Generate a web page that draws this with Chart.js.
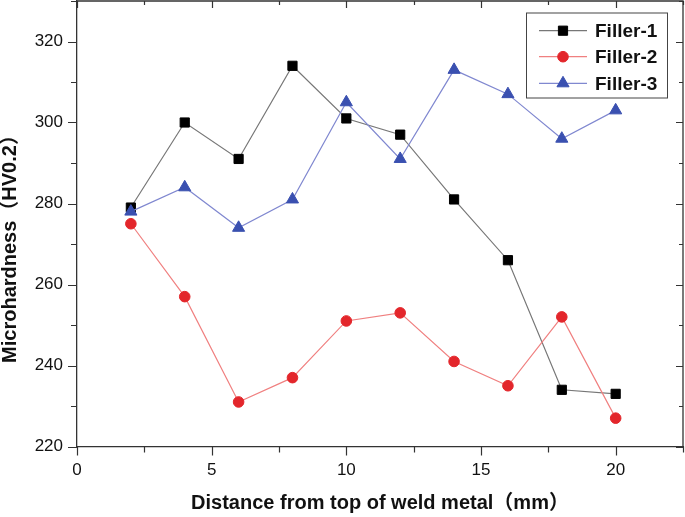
<!DOCTYPE html>
<html><head><meta charset="utf-8">
<script src="https://cdn.jsdelivr.net/npm/chart.js@4.4.0/dist/chart.umd.min.js"></script>
<style>html,body{margin:0;padding:0;background:#fff;}#wrap{width:685px;height:517px;position:relative;}</style>
</head><body><div id="wrap"><canvas id="c" width="685" height="517"></canvas></div>
<script>
// ---- data ----
const distances = [2, 4, 6, 8, 10, 12, 14, 16, 18, 20];
const filler1 = [279, 300, 291, 314, 301, 297, 281, 266, 234, 233];
const filler2 = [275, 257, 231, 237, 251, 253, 241, 235, 252, 227];
const filler3 = [278, 284, 274, 281, 305, 291, 313, 307, 296, 303];
const seriesNames = ['Filler-1', 'Filler-2', 'Filler-3'];
const xMajorTicks = [0, 5, 10, 15, 20];
const yMajorTicks = [220, 240, 260, 280, 300, 320];
const xTitle = 'Distance from top of weld metal（mm）';
const yTitle = 'Microhardness（HV0.2）';

const FONT = "'Liberation Sans', Arial, 'Noto Sans CJK SC', sans-serif";
const AXIS = '#333';

function pts(vals) { return distances.map((d, i) => ({x: d, y: vals[i]})); }

const frameTicks = {
  id: 'frameTicks',
  afterDraw(chart) {
    const {ctx, chartArea: a, scales: {x, y}} = chart;
    ctx.save();
    ctx.strokeStyle = AXIS; ctx.lineWidth = 1.3;
    ctx.beginPath();
    ctx.moveTo(a.left, a.top); ctx.lineTo(a.right, a.top); ctx.lineTo(a.right, a.bottom);
    ctx.stroke();
    ctx.lineWidth = 1.2;
    ctx.beginPath();
    for (let v = 220; v <= 330; v += 10) {
      const py = Math.round(y.getPixelForValue(v)) + 0.5;
      const major = yMajorTicks.includes(v);
      const L = major ? 9 : 6;
      ctx.moveTo(a.left, py); ctx.lineTo(a.left - L, py);
      ctx.moveTo(a.right, py); ctx.lineTo(a.right - (major ? 7 : 4), py);
    }
    for (let v = 0; v <= 22.5; v += 2.5) {
      const px = Math.round(x.getPixelForValue(v)) + 0.5;
      const major = xMajorTicks.includes(v);
      const L = major ? 9 : 6;
      ctx.moveTo(px, a.bottom); ctx.lineTo(px, a.bottom + L);
      ctx.moveTo(px, a.top); ctx.lineTo(px, a.top + (major ? 7 : 4));
    }
    ctx.stroke();
    ctx.fillStyle = '#111';
    ctx.font = 'bold 20px ' + FONT;
    ctx.textAlign = 'center'; ctx.textBaseline = 'middle';
    ctx.translate(10.5, 244);
    ctx.rotate(-Math.PI / 2);
    ctx.fillText(yTitle, 0, 0);
    ctx.restore();

    ctx.save();
    const bx = 526, by = 12.5, bw = 141, bh = 85;
    ctx.strokeStyle = '#444'; ctx.lineWidth = 1;
    ctx.strokeRect(bx + 0.5, by + 0.5, bw, bh);
    const rows = [30.7, 56.7, 83.3];
    chart.data.datasets.forEach((ds, i) => {
      const cy = rows[i];
      ctx.strokeStyle = ds.borderColor; ctx.lineWidth = ds.borderWidth;
      ctx.beginPath(); ctx.moveTo(539, cy); ctx.lineTo(587, cy); ctx.stroke();
      ctx.fillStyle = ds.pointBackgroundColor; ctx.strokeStyle = ds.pointBorderColor;
      ctx.lineWidth = ds.pointBorderWidth;
      Chart.helpers.drawPoint(ctx, {pointStyle: ds.pointStyle, radius: ds.pointRadius, rotation: 0, borderWidth: ds.pointBorderWidth}, 563, cy);
      ctx.fillStyle = '#111';
      ctx.font = 'bold 19px ' + FONT;
      ctx.textAlign = 'left'; ctx.textBaseline = 'middle';
      ctx.fillText(ds.label, 595, cy + 1);
    });
    ctx.restore();
  }
};

new Chart(document.getElementById('c'), {
  type: 'line',
  data: {
    datasets: [
      {label: seriesNames[0], data: pts(filler1), borderColor: '#777', borderWidth: 1.2,
       pointStyle: 'rect', pointRadius: 6.5, pointBackgroundColor: '#000', pointBorderColor: '#000', pointBorderWidth: 1, order: 3},
      {label: seriesNames[1], data: pts(filler2), borderColor: '#f08080', borderWidth: 1.2,
       pointStyle: 'circle', pointRadius: 5.3, pointBackgroundColor: '#e3262b', pointBorderColor: '#e3262b', pointBorderWidth: 1, order: 2},
      {label: seriesNames[2], data: pts(filler3), borderColor: '#8088d0', borderWidth: 1.2,
       pointStyle: 'triangle', pointRadius: 7, pointBackgroundColor: '#3a50b0', pointBorderColor: '#3a50b0', pointBorderWidth: 1, order: 1}
    ]
  },
  options: {
    responsive: false, animation: false, devicePixelRatio: 1,
    layout: {autoPadding: false, padding: {top: 1, right: 2, left: 0, bottom: 0}},
    plugins: {legend: {display: false}, tooltip: {enabled: false}},
    elements: {line: {tension: 0}},
    scales: {
      x: {
        type: 'linear', min: 0, max: 22.5,
        grid: {display: false},
        border: {display: true, color: AXIS, width: 1.3},
        ticks: {stepSize: 2.5, autoSkip: false, maxRotation: 0, padding: 6, color: '#111',
                font: {family: FONT, size: 17},
                callback: v => xMajorTicks.includes(v) ? String(v) : null},
        title: {display: true, text: xTitle, color: '#111',
                font: {family: FONT, size: 20, weight: 'bold'}, padding: {top: 0, bottom: 1.4}},
        afterFit: s => { s.height = 70.5; s.paddingLeft = 0; s.paddingRight = 0; }
      },
      y: {
        type: 'linear', min: 220, max: 330,
        grid: {display: false},
        border: {display: true, color: AXIS, width: 1.3},
        ticks: {stepSize: 10, autoSkip: false, padding: 6, color: '#111',
                font: {family: FONT, size: 17},
                callback: v => yMajorTicks.includes(v) ? String(v) : null},
        afterFit: s => { s.width = 77; s.paddingTop = 0; s.paddingBottom = 0; }
      }
    }
  },
  plugins: [frameTicks]
});
</script></body></html>
